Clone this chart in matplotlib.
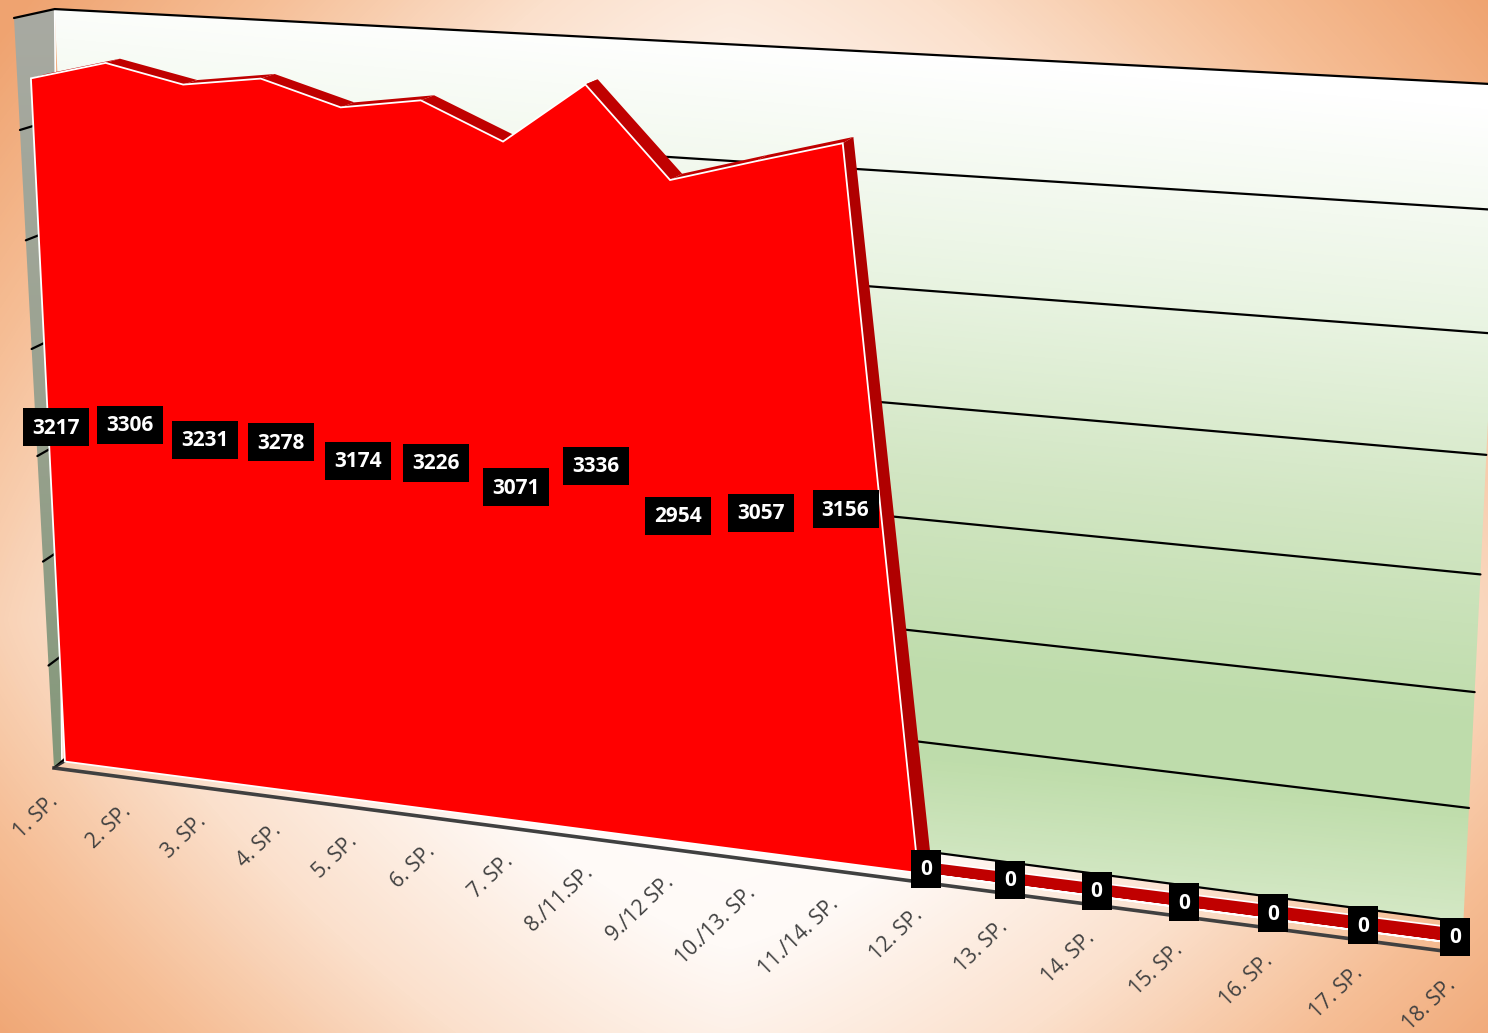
import numpy as np
import matplotlib
matplotlib.use('Agg')
import matplotlib.pyplot as plt
from matplotlib.colors import LinearSegmentedColormap
from matplotlib.patches import Polygon

# values, one per matchday
categories = ['1. SP.', '2. SP.', '3. SP.', '4. SP.', '5. SP.', '6. SP.', '7. SP.', '8./11.SP.',
              '9./12 SP.', '10./13. SP.', '11./14. SP.', '12. SP.', '13. SP.', '14. SP.',
              '15. SP.', '16. SP.', '17. SP.', '18. SP.']
values = [3217, 3306, 3231, 3278, 3174, 3226, 3071, 3336, 2954, 3057, 3156,
          0, 0, 0, 0, 0, 0, 0]
gridlines = [0, 500, 1000, 1500, 2000, 2500, 3000, 3500]

W, H = 1488, 1033
cats = np.arange(1, len(values) + 1)
vals = np.array(values, dtype=float)


def homography(src, dst):
    # perspective fit, (category, value) -> picture pixels, least squares if more than 4 points
    S = np.diag([1 / 18, 1 / 3500, 1.0])
    D = np.diag([W, H, 1.0])
    A, b = [], []
    for (sx_, sy_), (du, dv) in zip(src, dst):
        x, y, u, v = sx_ / 18, sy_ / 3500, du / W, dv / H
        A.append([x, y, 1, 0, 0, 0, -u * x, -u * y])
        A.append([0, 0, 0, x, y, 1, -v * x, -v * y])
        b += [u, v]
    h = np.linalg.lstsq(np.array(A, float), np.array(b, float), rcond=None)[0]
    return D @ np.append(h, 1).reshape(3, 3) @ S


def project(M, x, y):
    x, y = np.asarray(x, float), np.asarray(y, float)
    d = M[2, 0] * x + M[2, 1] * y + M[2, 2]
    return (M[0, 0] * x + M[0, 1] * y + M[0, 2]) / d, (M[1, 0] * x + M[1, 1] * y + M[1, 2]) / d


# the planes of the 3d box
front = homography([(1, 0), (12, 0), (18, 0), (1, 3217), (8, 3336), (11, 3156)],
                   [(65, 762), (918, 872), (1449, 943), (31, 78), (585, 85), (843, 143)])
back = homography([(12, 0), (18, 0), (2, 3306), (8, 3336), (11, 3156)],
                  [(931, 862), (1459, 928), (120, 59), (598, 78), (853, 138)])
# gridlines come out from behind the slanted edge of the area between 11 and 12
wall = homography([(1, 3500), (1, 3500), (1, 3500), (11.05, 3000), (11.21, 2500), (11.37, 2000), (11.52, 1500), (11.68, 1000), (11.84, 500), (12, 0),
                   (18, 3500), (18, 3000), (18, 2500), (18, 2000), (18, 1500), (18, 1000), (18, 500), (18, 0)],
                  [(56, 8), (56, 8), (56, 8), (857, 170), (870, 287), (883, 404), (895, 519), (907, 632), (919, 743), (930, 853),
                   (1503, 84), (1497, 210), (1492, 334), (1488, 455), (1483, 575), (1477, 692), (1471, 807), (1465, 917)])
outer = homography([(1, 0), (18, 0), (1, 3500), (18, 3500)],
                   [(54, 768), (1451, 952), (14, 18), (1490, 110)])

fig = plt.figure(figsize=(W / 100, H / 100), dpi=100)
ax = fig.add_axes([0, 0, 1, 1])
ax.set_xlim(0, W)
ax.set_ylim(H, 0)
ax.axis('off')
ax.set_autoscale_on(False)
extent = (0, W, H, 0)
xx, yy = np.meshgrid(np.arange(W) + .5, np.arange(H) + .5)

# page background, white middle going orange into the corners
bg_cmap = LinearSegmentedColormap.from_list(
    'bg', [(0, '#ffffff'), (.35, '#fffaf7'), (.6, '#fbe0cc'), (.8, '#f6bf97'), (1, '#efa370')])
dx = np.where(xx < 730, (xx - 730) / 590, (xx - 730) / 640)
dy = np.where(yy < 620, (yy - 620) / 680, (yy - 620) / 520)
r = (np.abs(dx) ** 1.3 + np.abs(dy) ** 1.3) ** (1 / 1.3) / 1.8
ax.imshow(r, cmap=bg_cmap, vmin=0, vmax=1, extent=extent, aspect='auto', zorder=0)

# back wall
wx, wy = project(wall, [1, 18, 18, 1], [0, 0, 3500, 3500])
wall_poly = Polygon(np.c_[wx, wy], closed=True, transform=ax.transData, fc='none', ec='none')
ax.add_patch(wall_poly)
wall_cmap = LinearSegmentedColormap.from_list(
    'wall', [(0, '#ffffff'), (.27, '#e9f4e2'), (.51, '#d2e6c3'), (.76, '#bedcab'),
             (.86, '#bfddab'), (1, '#d4e8c5')])
u = (yy - 0.09 * (xx - 1200) - 80) / 820
im = ax.imshow(u, cmap=wall_cmap, vmin=0, vmax=1, extent=extent, aspect='auto', zorder=1)
im.set_clip_path(wall_poly)

# side wall
sx = [project(outer, 1, 3500)[0], wx[3], project(front, 1, 0)[0] - 3, project(outer, 1, 0)[0]]
sy = [project(outer, 1, 3500)[1], wy[3], project(front, 1, 0)[1], project(outer, 1, 0)[1]]
side_poly = Polygon(np.c_[sx, sy], closed=True, transform=ax.transData, fc='none', ec='none')
ax.add_patch(side_poly)
side_cmap = LinearSegmentedColormap.from_list('side', ['#a8aaa2', '#9aa290', '#84987a'])
im2 = ax.imshow(yy, cmap=side_cmap, vmin=10, vmax=770, extent=extent, aspect='auto', zorder=1)
im2.set_clip_path(side_poly)
ax.plot(sx[1:3], sy[1:3], color='white', lw=1.2, zorder=2)

# gridlines, over both walls
for g in gridlines:
    gx, gy = project(wall, [1, 18], [g, g])
    ox, oy = project(outer, 1, g)
    ax.plot([ox, gx[0], gx[1]], [oy, gy[0], gy[1]], color='black', lw=1.6, zorder=3,
            solid_capstyle='round')

# floor edge
fx, fy = project(outer, [1, 18], [0, 0])
ax.plot(fx, fy, color='#404040', lw=2.6, zorder=3)
ax.plot([fx[0], project(front, 1, 0)[0]], [fy[0], project(front, 1, 0)[1]], color='#303030', lw=1.4, zorder=3)

# area: depth faces first, from the right to the left, then the front face
x0, y0 = project(front, cats, vals)
x1, y1 = project(back, cats, vals)
for i in range(len(cats) - 2, -1, -1):
    face = '#b00000' if vals[i] > 0 and vals[i + 1] == 0 else '#c00000'
    ax.fill([x0[i], x0[i + 1], x1[i + 1], x1[i]], [y0[i], y0[i + 1], y1[i + 1], y1[i]],
            fc=face, ec='none', zorder=4)
ax.plot(x1[11:], y1[11:], color='white', lw=1.2, zorder=4)

bx, by = project(front, cats, np.zeros_like(vals))
area_x = np.r_[x0, bx[::-1]]
area_y = np.r_[y0, by[::-1]]
ax.fill(area_x, area_y, fc='#ff0000', ec='white', lw=1.3, joinstyle='miter', zorder=5)

# value labels in the middle of the area
lx = (project(front, cats, vals / 2)[0] + project(back, cats, vals / 2)[0]) / 2
ly = (project(front, cats, vals / 2)[1] + project(back, cats, vals / 2)[1]) / 2
for a, b, v in zip(lx, ly, values):
    w = 33 if v > 0 else 15
    a, b = a + 1, b + 1.5
    ax.fill([a - w, a + w, a + w, a - w], [b - 19, b - 19, b + 19, b + 19], fc='black', ec='none', zorder=6)
    ax.text(a, b + 1, str(v), color='white', fontsize=15, fontweight='bold', family='Open Sans',
            ha='center', va='center', zorder=7)

# category labels hang under the floor edge
tx, ty = project(outer, cats, np.zeros_like(vals))
for a, b, name in zip(tx, ty, categories):
    ax.text(a - 6, b + 23, name, color='#404040', fontsize=15.2, family='Open Sans', rotation=44,
            rotation_mode='anchor', ha='right', va='top', zorder=7)

fig.savefig('out.png', dpi=100)
